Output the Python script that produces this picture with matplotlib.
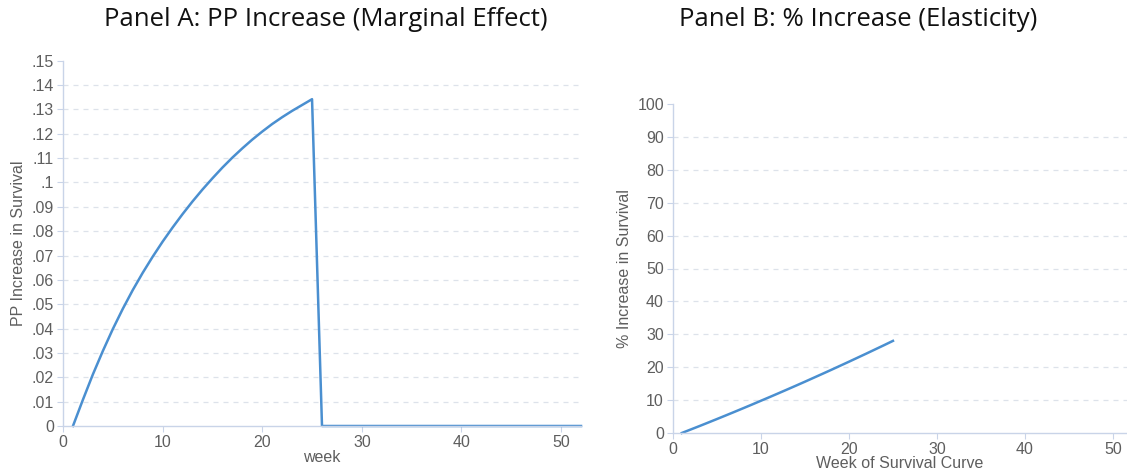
import matplotlib.pyplot as plt
from matplotlib.ticker import FuncFormatter

# Panel A: percentage-point increase in survival by week
weeks_a = list(range(1, 53))
pp_increase = [0.0, 0.0108, 0.0212, 0.0308, 0.0398, 0.0481, 0.0558, 0.0629,
               0.0695, 0.0757, 0.0815, 0.0870, 0.0922, 0.0971, 0.1017, 0.1061,
               0.1102, 0.1140, 0.1176, 0.1209, 0.1240, 0.1268, 0.1294, 0.1318,
               0.1342] + [0.0] * 27

# Panel B: % increase in survival by week
weeks_b = list(range(1, 26))
pct_increase = [0.0, 1.05, 2.1, 3.17, 4.25, 5.34, 6.44, 7.55, 8.67, 9.81,
                10.94, 12.09, 13.25, 14.42, 15.6, 16.8, 18.0, 19.21, 20.44,
                21.67, 22.92, 24.17, 25.44, 26.71, 28.0]

yticks_a = [i / 100 for i in range(16)]
yticks_b = list(range(0, 101, 10))
xticks = [0, 10, 20, 30, 40, 50]

LINE = '#4a8fd0'
AXIS = '#c9d4e8'
GRID = '#dde2ea'
TXT = '#5e5e5e'

plt.rcParams['font.family'] = ['Liberation Sans', 'DejaVu Sans']


def fmt_dec(v, pos):
    if v == 0:
        return '0'
    s = f'{v:.2f}'.rstrip('0')
    return s.lstrip('0')


def style_axes(ax, yticks):
    for side in ['top', 'right']:
        ax.spines[side].set_visible(False)
    for side in ['left', 'bottom']:
        ax.spines[side].set_color(AXIS)
        ax.spines[side].set_linewidth(1.0)
    ax.tick_params(colors=AXIS, labelcolor=TXT, labelsize=11.5, length=4, width=0.8, pad=2.5)
    ax.set_xticks(xticks)
    ax.set_yticks(yticks)
    for y in yticks[1:-1]:
        ax.axhline(y, color=GRID, lw=0.9, ls=(0, (4, 4)), zorder=0)


fig = plt.figure(figsize=(11.27, 4.72), dpi=100)

ax1 = fig.add_axes([63 / 1127, 1 - 426 / 472, 518 / 1127, (426 - 60.7) / 472])
ax1.plot(weeks_a, pp_increase, color=LINE, lw=1.8, clip_on=False)
ax1.set_xlim(0, 52)
ax1.set_ylim(0, 0.15)
style_axes(ax1, yticks_a)
ax1.yaxis.set_major_formatter(FuncFormatter(fmt_dec))
ax1.set_xlabel('week', color=TXT, fontsize=11.5, labelpad=0)
ax1.set_ylabel('PP Increase in Survival', color=TXT, fontsize=11.5, labelpad=4)

ax2 = fig.add_axes([673 / 1127, 1 - 433 / 472, 454 / 1127, (433 - 104) / 472])
ax2.plot(weeks_b, pct_increase, color=LINE, lw=1.8, clip_on=False)
ax2.set_xlim(0, 51.6)
ax2.set_ylim(0, 100)
style_axes(ax2, yticks_b)
ax2.set_xlabel('Week of Survival Curve', color=TXT, fontsize=11.5, labelpad=-1)
ax2.set_ylabel('% Increase in Survival', color=TXT, fontsize=11.5, labelpad=4)

fig.text(326 / 1127, 1 - 20 / 472, 'Panel A: PP Increase (Marginal Effect)',
         ha='center', va='center', fontsize=18.5, family='Open Sans', color='#111111')
fig.text(858 / 1127, 1 - 20 / 472, 'Panel B: % Increase (Elasticity)',
         ha='center', va='center', fontsize=18.5, family='Open Sans', color='#111111')

fig.savefig('out.png', dpi=100)
